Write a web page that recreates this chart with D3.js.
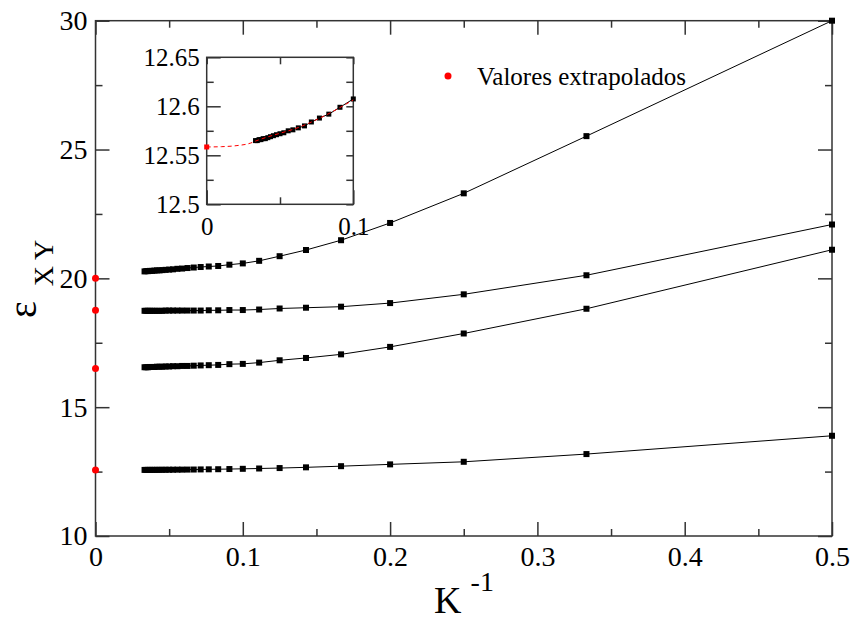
<!DOCTYPE html>
<html>
<head>
<meta charset="utf-8">
<script src="https://cdn.jsdelivr.net/npm/d3@7"></script>
<style>
  body { margin: 0; background: #fff; }
  svg { display: block; }
</style>
</head>
<body>
<svg id="chart" width="854" height="623"></svg>
<script>
// K^-1 values (K = 2 .. 30)
const xInv = [0.5, 0.3333, 0.25, 0.2, 0.1667, 0.1429, 0.125, 0.1111, 0.1, 0.0909,
  0.0833, 0.0769, 0.0714, 0.0667, 0.0625, 0.0588, 0.0556, 0.0526, 0.05, 0.0476,
  0.0455, 0.0435, 0.0417, 0.04, 0.0385, 0.037, 0.0357, 0.0345, 0.0333];

// epsilon_XY for each curve, same order as xInv
const curveA = [30.0, 25.52, 23.30, 22.15, 21.48, 21.10, 20.86, 20.68, 20.58, 20.53,
  20.48, 20.46, 20.44, 20.42, 20.40, 20.38, 20.37, 20.35, 20.34, 20.33,
  20.32, 20.31, 20.31, 20.30, 20.29, 20.29, 20.28, 20.28, 20.27];
const curveB = [22.09, 20.12, 19.38, 19.04, 18.90, 18.86, 18.83, 18.79, 18.77, 18.77,
  18.76, 18.76, 18.75, 18.75, 18.75, 18.75, 18.75, 18.75, 18.75, 18.75,
  18.74, 18.74, 18.74, 18.74, 18.74, 18.74, 18.74, 18.74, 18.74];
const curveC = [21.11, 18.82, 17.86, 17.34, 17.05, 16.91, 16.82, 16.73, 16.68, 16.67,
  16.64, 16.63, 16.62, 16.61, 16.60, 16.60, 16.59, 16.59, 16.58, 16.58,
  16.57, 16.57, 16.57, 16.56, 16.56, 16.56, 16.55, 16.55, 16.55];
const curveD = [13.89, 13.18, 12.88, 12.78, 12.71, 12.665, 12.637, 12.62, 12.6075, 12.599,
  12.592, 12.588, 12.584, 12.580, 12.578, 12.576, 12.575, 12.573, 12.572, 12.571,
  12.570, 12.569, 12.568, 12.567, 12.567, 12.566, 12.566, 12.565, 12.565];

// extrapolated values at K^-1 = 0
const extrapolated = [20.0, 18.76, 16.50, 12.5585];

// fitted (red dashed) curve in the inset
const fitX = [0, 0.01, 0.02, 0.03, 0.0333, 0.04, 0.05, 0.06, 0.07, 0.08, 0.09, 0.1];
const fitY = [12.5585, 12.5588, 12.5598, 12.5625, 12.5645, 12.568, 12.5725, 12.577, 12.583, 12.59, 12.598, 12.6065];

const xMajor = [0, 0.1, 0.2, 0.3, 0.4, 0.5];
const xMinor = [0.05, 0.15, 0.25, 0.35, 0.45];
const yMajor = [10, 15, 20, 25, 30];
const yMinor = [12.5, 17.5, 22.5, 27.5];
const insetXMajor = [0, 0.1];
const insetXMinor = [0.05];
const insetYMajor = [12.5, 12.55, 12.6, 12.65];
const insetYMinor = [12.525, 12.575, 12.625];
const legendLabel = "Valores extrapolados";

const svg = d3.select("#chart");
const frameColor = "#333";
const serif = '"Liberation Serif", "Times New Roman", serif';

// ---- main plot ----
const x = d3.scaleLinear().domain([0, 0.5]).range([95.5, 832]);
const y = d3.scaleLinear().domain([10, 30]).range([536, 20.7]);

function styleLabels(ax, size) {
  ax.selectAll("text")
    .style("font-family", serif)
    .style("font-size", size + "px")
    .attr("fill", "#000");
}

function drawFrame(g, xs, ys, opt) {
  const [x0, x1] = xs.range();
  const [y0, y1] = ys.range();
  const fmt = opt.fmt || (d => d);

  // bottom
  g.append("g").attr("transform", `translate(0,${y0})`)
    .call(d3.axisBottom(xs).tickValues(opt.xMajor).tickSize(-opt.major).tickSizeOuter(0)
      .tickPadding(opt.xPad).tickFormat(fmt))
    .call(ax => ax.select(".domain").remove())
    .call(ax => styleLabels(ax, opt.font));
  g.append("g").attr("transform", `translate(0,${y0})`)
    .call(d3.axisBottom(xs).tickValues(opt.xMinor).tickSize(-opt.minor).tickFormat(""))
    .call(ax => ax.select(".domain").remove());
  // top
  g.append("g").attr("transform", `translate(0,${y1})`)
    .call(d3.axisTop(xs).tickValues(opt.xMajor).tickSize(-opt.majorMirror).tickFormat(""))
    .call(ax => ax.select(".domain").remove());
  g.append("g").attr("transform", `translate(0,${y1})`)
    .call(d3.axisTop(xs).tickValues(opt.xMinor).tickSize(-opt.minor).tickFormat(""))
    .call(ax => ax.select(".domain").remove());
  // left
  g.append("g").attr("transform", `translate(${x0},0)`)
    .call(d3.axisLeft(ys).tickValues(opt.yMajor).tickSize(-opt.major).tickSizeOuter(0)
      .tickPadding(opt.yPad).tickFormat(fmt))
    .call(ax => ax.select(".domain").remove())
    .call(ax => styleLabels(ax, opt.font));
  g.append("g").attr("transform", `translate(${x0},0)`)
    .call(d3.axisLeft(ys).tickValues(opt.yMinor).tickSize(-opt.minor).tickFormat(""))
    .call(ax => ax.select(".domain").remove());
  // right
  g.append("g").attr("transform", `translate(${x1},0)`)
    .call(d3.axisRight(ys).tickValues(opt.yMajor).tickSize(-opt.majorMirror).tickFormat(""))
    .call(ax => ax.select(".domain").remove());
  g.append("g").attr("transform", `translate(${x1},0)`)
    .call(d3.axisRight(ys).tickValues(opt.yMinor).tickSize(-opt.minor).tickFormat(""))
    .call(ax => ax.select(".domain").remove());

  g.selectAll(".tick line").attr("stroke", frameColor).attr("stroke-width", 1.5);

  g.append("rect")
    .attr("x", x0).attr("y", y1)
    .attr("width", x1 - x0).attr("height", y0 - y1)
    .attr("fill", "none").attr("stroke", frameColor).attr("stroke-width", 1.5);
}

const main = svg.append("g");
drawFrame(main, x, y, {
  xMajor, xMinor, yMajor, yMinor,
  major: 14, majorMirror: 14, minor: 7, font: 28, xPad: 10, yPad: 8
});

const line = d3.line().x(d => x(d[0])).y(d => y(d[1]));
const curves = [curveA, curveB, curveC, curveD];

curves.forEach(vals => {
  const pts = xInv.map((v, i) => [v, vals[i]]);
  main.append("path")
    .datum(pts)
    .attr("d", line)
    .attr("fill", "none")
    .attr("stroke", "#000")
    .attr("stroke-width", 1);
  main.selectAll(null)
    .data(pts)
    .enter()
    .append("rect")
    .attr("x", d => x(d[0]) - 3)
    .attr("y", d => y(d[1]) - 3)
    .attr("width", 6)
    .attr("height", 6)
    .attr("fill", "#000");
});

main.selectAll(".extra")
  .data(extrapolated)
  .enter()
  .append("circle")
  .attr("class", "extra")
  .attr("cx", x(0))
  .attr("cy", d => y(d))
  .attr("r", 3.5)
  .attr("fill", "#f00");

// axis titles
svg.append("text")
  .attr("transform", "translate(36,279) rotate(-90)")
  .attr("text-anchor", "middle")
  .style("font-family", serif)
  .call(t => {
    t.append("tspan").style("font-size", "40px").text("ε");
    t.append("tspan").style("font-size", "28px").attr("dx", 15).attr("dy", 17).text("X Y");
  });

svg.append("text")
  .attr("x", 464)
  .attr("y", 613)
  .attr("text-anchor", "middle")
  .style("font-family", serif)
  .call(t => {
    t.append("tspan").style("font-size", "38px").text("K");
    t.append("tspan").style("font-size", "28px").attr("dx", 9).attr("dy", -22).text("-1");
  });

// legend
svg.append("circle").attr("cx", 448).attr("cy", 76).attr("r", 3.5).attr("fill", "#f00");
svg.append("text")
  .attr("x", 477).attr("y", 85)
  .style("font-family", serif)
  .style("font-size", "25px")
  .text(legendLabel);

// ---- inset ----
const xi = d3.scaleLinear().domain([0, 0.1]).range([206.7, 353.3]);
const yi = d3.scaleLinear().domain([12.5, 12.65]).range([204.3, 57.3]);
const inset = svg.append("g");

drawFrame(inset, xi, yi, {
  xMajor: insetXMajor, xMinor: insetXMinor, yMajor: insetYMajor, yMinor: insetYMinor,
  major: 14, majorMirror: 7, minor: 7, font: 25, xPad: 13, yPad: 7,
  fmt: d => String(d)
});

const insetPts = xInv.map((v, i) => [v, curveD[i]]).filter(d => d[0] <= 0.1);
const lineI = d3.line().x(d => xi(d[0])).y(d => yi(d[1]));

inset.append("path")
  .datum(insetPts)
  .attr("d", lineI)
  .attr("fill", "none")
  .attr("stroke", "#000")
  .attr("stroke-width", 1);

inset.selectAll(".ip")
  .data(insetPts)
  .enter()
  .append("rect")
  .attr("class", "ip")
  .attr("x", d => xi(d[0]) - 2.5)
  .attr("y", d => yi(d[1]) - 2.5)
  .attr("width", 5)
  .attr("height", 5)
  .attr("fill", "#000");

inset.append("path")
  .datum(fitX.map((v, i) => [v, fitY[i]]))
  .attr("d", lineI.curve(d3.curveMonotoneX))
  .attr("fill", "none")
  .attr("stroke", "#f00")
  .attr("stroke-width", 1)
  .attr("stroke-dasharray", "4,3");

inset.append("rect")
  .attr("x", xi(0) - 2.5)
  .attr("y", yi(extrapolated[3]) - 2.5)
  .attr("width", 5)
  .attr("height", 5)
  .attr("fill", "#f00");
</script>
</body>
</html>
